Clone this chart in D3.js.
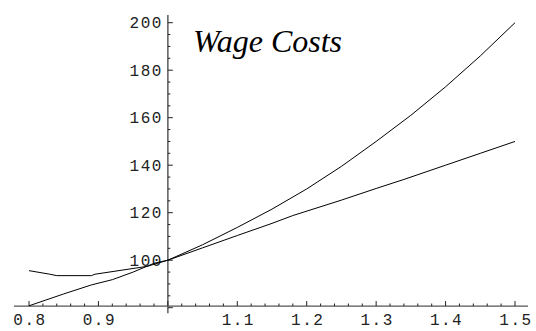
<!DOCTYPE html>
<html lang="en">
<head>
    <meta charset="UTF-8">
    <title>Wage Costs</title>
    <script src="https://cdn.jsdelivr.net/npm/d3@7"></script>
    <style>
        body { margin: 0; background: #fff; }
    </style>
</head>
<body>
<div id="container"></div>

<script>
// values
const title = "Wage Costs";

// curve that stays flat on the left, lower one on the right
const aX = [0.80, 0.83, 0.84, 0.89, 0.895, 0.97, 1.00, 1.05, 1.10, 1.15, 1.18, 1.25, 1.30, 1.34, 1.40, 1.45, 1.50];
const aY = [95.6, 94.1, 93.5, 93.5, 94.1, 97.4, 100, 105.2, 110.4, 115.5, 118.8, 125.3, 130.2, 134.0, 140.0, 145.0, 150.0];

// curve that starts low on the left, upper one on the right
const bX = [0.80, 0.85, 0.89, 0.92, 0.95, 0.98, 1.00, 1.05, 1.10, 1.15, 1.20, 1.25, 1.30, 1.35, 1.40, 1.45, 1.50];
const bY = [80.8, 85.8, 89.6, 91.8, 95.0, 98.7, 100, 106.5, 113.8, 121.5, 130.0, 139.5, 150.0, 161.0, 173.0, 186.0, 200.0];

const xTickLabels = [0.8, 0.9, 1.1, 1.2, 1.3, 1.4, 1.5];
const yTickLabels = [100, 120, 140, 160, 180, 200];

// plot range and where the axes cross
const xRange = [0.7784, 1.5187];
const yRange = [77.7, 203.2];
const xOrigin = 1.0;
const yOrigin = 80.7;

let W = 536, H = 331;
let svg = d3.select('#container')
    .append('svg')
    .attr('width', W)
    .attr('height', H)
    .style('display', 'block');

let x = d3.scaleLinear().domain([0.8, 1.5]).range([29, 515]);
let y = d3.scaleLinear().domain([100, 200]).range([260.2, 22.7]);

// axes lines
svg.append("line")
    .attr("x1", x(xRange[0])).attr("x2", x(xRange[1]))
    .attr("y1", y(yOrigin)).attr("y2", y(yOrigin))
    .attr("stroke", "#555").attr("stroke-width", 1.2);
svg.append("line")
    .attr("x1", x(xOrigin)).attr("x2", x(xOrigin))
    .attr("y1", y(yRange[0])).attr("y2", y(yRange[1]))
    .attr("stroke", "#666").attr("stroke-width", 1.6);

// x ticks (pointing up), major every 0.1, minor every 0.02
let xMinor = d3.range(80, 151, 2).map(d => d / 100);
svg.append("g").selectAll("line")
    .data(xMinor)
    .join("line")
    .attr("x1", d => x(d)).attr("x2", d => x(d))
    .attr("y1", y(yOrigin))
    .attr("y2", d => y(yOrigin) - (Math.round(d * 100) % 10 === 0 ? 5 : 2.5))
    .attr("stroke", "#222").attr("stroke-width", 1);

// y ticks (pointing right), major every 20, minor every 5
let yMinor = d3.range(80, 201, 5);
svg.append("g").selectAll("line")
    .data(yMinor)
    .join("line")
    .attr("x1", x(xOrigin)).attr("x2", d => x(xOrigin) + (d % 20 === 0 ? 5 : 2.5))
    .attr("y1", d => y(d)).attr("y2", d => y(d))
    .attr("stroke", "#222").attr("stroke-width", 1);

// tick labels
svg.append("g").selectAll("text")
    .data(xTickLabels)
    .join("text")
    .attr("x", d => x(d) + 1)
    .attr("y", y(yOrigin) + 19)
    .attr("text-anchor", "middle")
    .style("font-family", "'Liberation Mono', 'DejaVu Sans Mono', monospace")
    .style("font-size", "16px")
    .style("letter-spacing", "1.5px")
    .attr("fill", "#222")
    .text(d => d.toFixed(1));

svg.append("g").selectAll("text")
    .data(yTickLabels)
    .join("text")
    .attr("x", x(xOrigin) - 5)
    .attr("y", d => y(d))
    .attr("dy", "0.35em")
    .attr("text-anchor", "end")
    .style("font-family", "'Liberation Mono', 'DejaVu Sans Mono', monospace")
    .style("font-size", "16px")
    .style("letter-spacing", "1.5px")
    .attr("fill", "#222")
    .text(d => d);

// curves
let line = d3.line()
    .x(d => x(d[0]))
    .y(d => y(d[1]));

svg.append("path")
    .datum(d3.zip(aX, aY))
    .attr("d", line)
    .attr("fill", "none")
    .attr("stroke", "#000")
    .attr("stroke-width", 1)
    .attr("stroke-linejoin", "round");

svg.append("path")
    .datum(d3.zip(bX, bY))
    .attr("d", line)
    .attr("fill", "none")
    .attr("stroke", "#000")
    .attr("stroke-width", 1)
    .attr("stroke-linejoin", "round");

// title
svg.append("text")
    .attr("x", 193)
    .attr("y", 52)
    .style("font-family", "'Liberation Serif', 'Times New Roman', serif")
    .style("font-style", "italic")
    .style("font-size", "32px")
    .attr("fill", "#000")
    .text(title);
</script>
</body>
</html>
